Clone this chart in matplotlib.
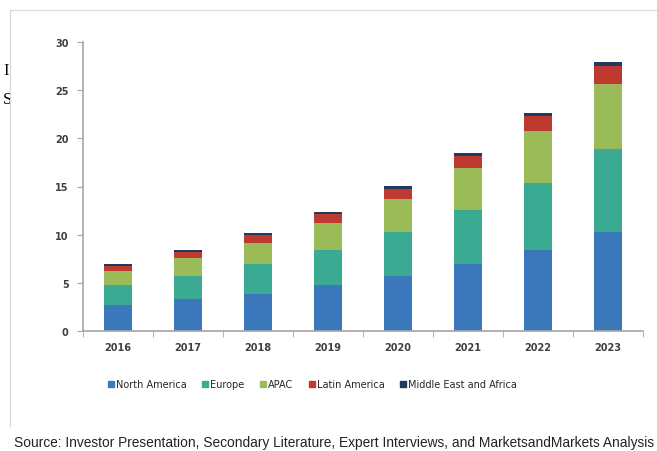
import matplotlib.pyplot as plt
from matplotlib.lines import Line2D

years = ['2016', '2017', '2018', '2019', '2020', '2021', '2022', '2023']
north_america = [2.70, 3.27, 3.85, 4.76, 5.66, 6.91, 8.43, 10.27]
europe = [2.09, 2.42, 3.06, 3.64, 4.61, 5.62, 6.94, 8.64]
apac = [1.39, 1.87, 2.25, 2.78, 3.43, 4.37, 5.38, 6.76]
latin_america = [0.59, 0.66, 0.77, 0.93, 1.08, 1.28, 1.56, 1.84]
mea = [0.14, 0.18, 0.20, 0.27, 0.25, 0.28, 0.34, 0.42]

series = [
    ('North America', north_america, '#3b78bb'),
    ('Europe', europe, '#3aaa93'),
    ('APAC', apac, '#9bbb59'),
    ('Latin America', latin_america, '#be3a30'),
    ('Middle East and Africa', mea, '#1f3a5c'),
]

W, H = 657, 452
fig = plt.figure(figsize=(W / 100, H / 100), dpi=100)
fig.patch.set_facecolor('white')

# frame of the clipped screenshot
frame = fig.add_axes([0, 0, 1, 1])
frame.set_xlim(0, W)
frame.set_ylim(H, 0)
frame.axis('off')
frame.plot([10, 10, W], [427, 11, 11], color='#d9d9d9', lw=0.9)

# bits of text cut off at the left edge
strip = fig.add_axes([0, 0, 10 / W, 1])
strip.set_xlim(0, 10)
strip.set_ylim(H, 0)
strip.axis('off')
strip.text(3, 71, 'I', fontsize=12, family='Liberation Serif', ha='left', va='center', clip_on=True)
strip.text(3, 100, 'S', fontsize=12, family='Liberation Serif', ha='left', va='center', clip_on=True)

ax = fig.add_axes([82.5 / W, 1 - 331.7 / H, (643 - 82.5) / W, (331.7 - 43.3) / H])
x = list(range(len(years)))
bottom = [0.0] * len(years)
for name, vals, col in series:
    ax.bar(x, vals, width=0.4, bottom=bottom, color=col, label=name, zorder=2)
    bottom = [b + v for b, v in zip(bottom, vals)]

ax.set_xlim(-0.5, len(years) - 0.5)
ax.set_ylim(0, 30)
ax.set_yticks(range(0, 31, 5))
ax.set_xticks(x)
ax.set_xticklabels(years)
ax.set_xticks([i + 0.5 for i in range(-1, len(years))], minor=True)
ax.tick_params(axis='x', which='major', length=0, pad=8)
ax.tick_params(axis='x', which='minor', length=4, color='#a6a6a6', direction='out')
ax.tick_params(axis='y', length=4, color='#a6a6a6', direction='out', pad=6)
for lab in ax.get_xticklabels() + ax.get_yticklabels():
    lab.set_fontsize(7)
    lab.set_fontweight('bold')
    lab.set_color('#404040')
for side in ['top', 'right']:
    ax.spines[side].set_visible(False)
for side in ['left', 'bottom']:
    ax.spines[side].set_color('#a6a6a6')
    ax.spines[side].set_linewidth(1.2)

handles = [Line2D([], [], marker='s', ls='', markersize=5, color=col) for _, _, col in series]
fig.legend(handles, [s[0] for s in series], loc='center', bbox_to_anchor=(312 / W, 1 - 385 / H),
           ncol=5, frameon=False, fontsize=7, handletextpad=0.1, columnspacing=1.5,
           handlelength=0.8, labelcolor='#262626')

fig.text(14 / W, 1 - 443 / H,
         'Source: Investor Presentation, Secondary Literature, Expert Interviews, and MarketsandMarkets Analysis',
         fontsize=9.95, family='Liberation Sans', color='#222222', ha='left', va='center')

fig.savefig('out.png', dpi=100)
